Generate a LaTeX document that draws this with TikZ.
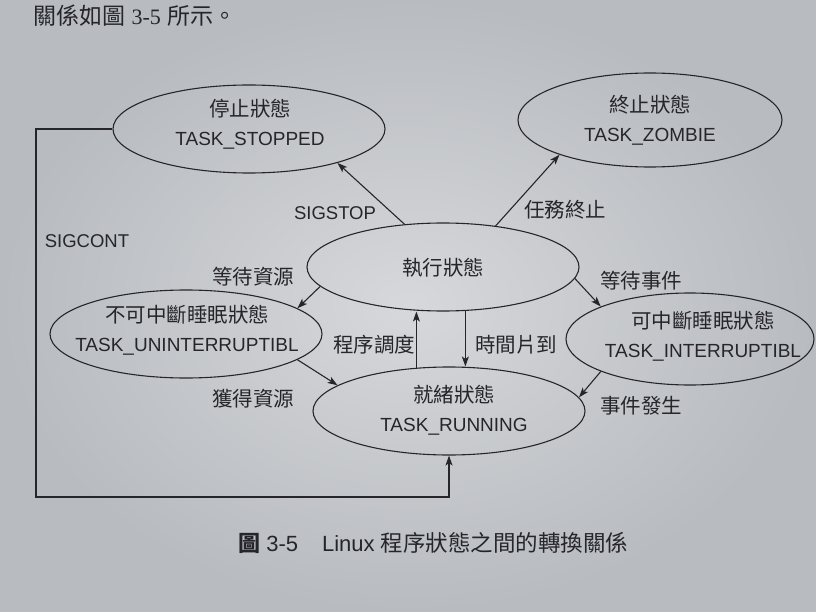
\documentclass[tikz,border=0pt]{standalone}
\usepackage{fontspec}
\setmainfont{Liberation Sans}
\newfontfamily\cjk{Noto Sans CJK TC}
\newfontfamily\serifL{Liberation Serif}
\usetikzlibrary{arrows.meta,shapes.geometric}
\definecolor{ink}{RGB}{38,38,42}
\definecolor{pagein}{RGB}{214,216,219}
\definecolor{pageout}{RGB}{184,187,191}
\newcommand\ck[1]{{\cjk\fontsize{20.5}{22}\selectfont #1}}
\tikzset{
  state/.style={ellipse,draw=ink,line width=1.1pt,inner sep=0pt,
    minimum width=272pt,minimum height=88pt},
  stxt/.style={align=center,text=ink,inner sep=0pt,
    font=\fontsize{19}{29}\selectfont},
  lbl/.style={text=ink,inner sep=0pt,font=\fontsize{18.5}{22}\selectfont},
  arr/.style={draw=ink,line width=1.1pt,-{Stealth[length=10pt,width=7pt,inset=2.5pt]}},
}
\begin{document}
\begin{tikzpicture}[x=1pt,y=-1pt]
\useasboundingbox (0,0) rectangle (816,612);
\shade[inner color=pagein,outer color=pageout] (0,0) rectangle (816,612);

% top text line
\node[text=ink,anchor=west,inner sep=0pt,font=\fontsize{23}{26}\selectfont] (toptext) at (33,16)
  {{\cjk 關係如圖} {\serifL\fontsize{22}{26}\selectfont 3-5} {\cjk 所示。}};

% states
\node[state] (stop) at (249,129) {};
\node[state,minimum height=94pt,minimum width=264pt] (zomb) at (650,120) {};
\node[state] (run) at (443,267) {};
\node[state] (unint) at (186,334) {};
\node[state] (ready) at (449,411) {};
\node[state,minimum width=248pt,minimum height=92pt] (intr) at (690,339) {};

\node[stxt] (stopT) at (250,124) {\ck{停止狀態}\\TASK\_STOPPED};
\node[stxt] (zombT) at (650,120) {\ck{終止狀態}\\TASK\_ZOMBIE};
\node[stxt] (runT) at (443,268) {\ck{執行狀態}};
\node[stxt] (unintT) at (187,330) {\ck{不可中斷睡眠狀態}\\TASK\_UNINTERRUPTIBL};
\node[stxt] (readyT) at (454,410) {\ck{就緒狀態}\\TASK\_RUNNING};
\node[stxt] (intrT) at (703,336) {\ck{可中斷睡眠狀態}\\TASK\_INTERRUPTIBL};

% transitions
\draw[arr] (run.132) -- (stop.-21);
\draw[arr] (run.38) -- (zomb.201);
\draw[arr] (run.189) -- (unint.13);
\draw[arr] (run.-5.5) -- (intr.160);
\draw[arr] (unint.-13) -- (ready.167);
\draw[arr] (intr.200) -- (ready.6);
\draw[arr] (ready.127) -- (ready.127 |- run.south);
\draw[arr] (run.-63) -- (run.-63 |- ready.north);
\coordinate (corner) at (36,497);
\draw[arr] (stop.west) -| (corner) -| (ready.south);

% labels
\node[lbl] (lstop) at (335,213) {SIGSTOP};
\node[lbl] (lzomb) at (565,210) {\ck{任務終止}};
\node[lbl] (lcont) at (87,241) {SIGCONT};
\node[lbl] (lwres) at (253,277) {\ck{等待資源}};
\node[lbl] (lwevt) at (641,281) {\ck{等待事件}};
\node[lbl] (lsched) at (374,345) {\ck{程序調度}};
\node[lbl] (lslice) at (516,345) {\ck{時間片到}};
\node[lbl] (lgres) at (253,399) {\ck{獲得資源}};
\node[lbl] (levt) at (641,406) {\ck{事件發生}};

% caption
\node[text=ink,anchor=west,inner sep=0pt,font=\fontsize{22}{26}\selectfont] (cap) at (238,543)
  {{\cjk\bfseries 圖} 3-5\hspace{24pt}Linux {\cjk\fontsize{22.5}{26}\selectfont 程序狀態之間的轉換關係}};
\end{tikzpicture}
\end{document}
